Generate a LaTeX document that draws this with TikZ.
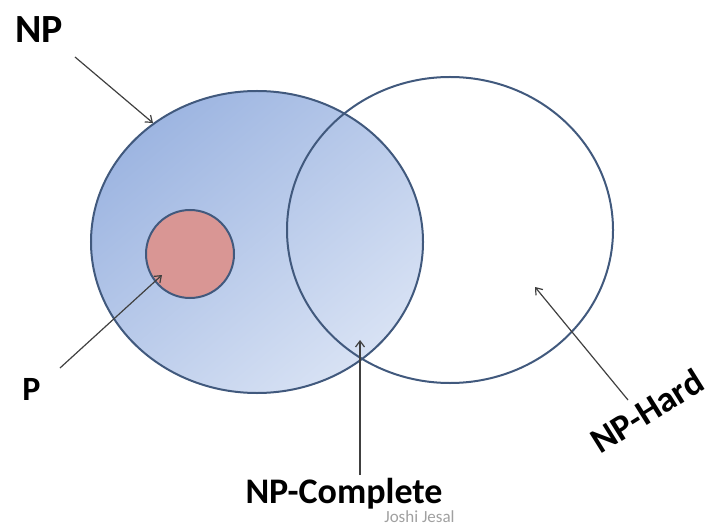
\documentclass[tikz,border=0pt]{standalone}
\usepackage{fontspec}
\setmainfont{Carlito}
\usetikzlibrary{shapes.geometric,arrows.meta}
\definecolor{rim}{HTML}{41597D}
\definecolor{npA}{HTML}{9DB5E1}
\definecolor{npB}{HTML}{D8E2F4}
\definecolor{pfill}{HTML}{D99694}
\definecolor{arr}{HTML}{404040}
\definecolor{wm}{HTML}{A0A0A0}
\tikzset{
  setbox/.style={ellipse, draw=rim, line width=2bp, inner sep=0pt},
  lbl/.style={font=\bfseries\fontsize{36bp}{40bp}\selectfont, text=black, inner sep=0pt},
  pointer/.style={draw=arr, line width=1.2bp, -{Straight Barb[length=6bp,width=9bp]}}
}
\begin{document}
\begin{tikzpicture}[x=1bp,y=-1bp]
\useasboundingbox (0,0) rectangle (712,525);
% sets
\node[setbox, minimum width=332bp, minimum height=302bp,
      top color=npA, bottom color=npB, shading angle=40] (np) at (257,242) {};
\node[setbox, minimum width=88bp, minimum height=88bp, fill=pfill] (p) at (190,254) {};
\node[setbox, minimum width=326bp, minimum height=306bp] (nphard) at (450,230) {};
% labels
\node[lbl, font=\bfseries\fontsize{40bp}{44bp}\selectfont, anchor=base] (lnp) at (39,43) {NP};
\node[lbl, font=\bfseries\fontsize{34bp}{38bp}\selectfont, anchor=base] (lp) at (31.5,400) {P};
\node[lbl, anchor=base] (lnpc) at (344,503) {NP-Complete};
\node[lbl, rotate=32] (lnph) at (647,411) {NP-Hard};
\node[font=\fontsize{17bp}{19bp}\selectfont, text=wm, anchor=base, inner sep=0pt] (wmark) at (419.5,522) {Joshi Jesal};
% pointer ends
\coordinate (a1) at (75,57);   \coordinate (b1) at (153,123);
\coordinate (a2) at (60,368);  \coordinate (b2) at (162,275);
\coordinate (a3) at (360,475); \coordinate (b3) at (360,340);
\coordinate (a4) at (628,400); \coordinate (b4) at (535,287);
\draw[pointer] (a1) -- (b1);
\draw[pointer] (a2) -- (b2);
\draw[pointer] (a3) -- (b3);
\draw[pointer] (a4) -- (b4);
\end{tikzpicture}
\end{document}
